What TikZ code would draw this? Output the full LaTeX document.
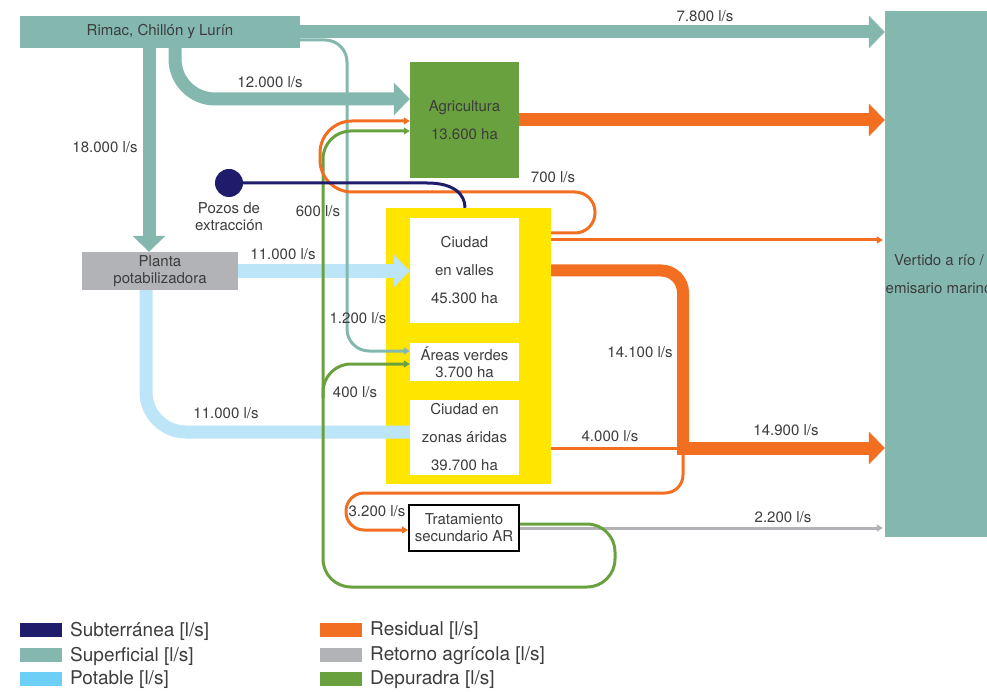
\documentclass[tikz,border=0pt]{standalone}
\usepackage{fontspec}
\setmainfont{TeX Gyre Heros}
\usepackage{tikz}
\usetikzlibrary{arrows.meta}
\definecolor{cSup}{HTML}{84B8AF}
\definecolor{cSub}{HTML}{201C6C}
\definecolor{cPot}{HTML}{BCE5F7}
\definecolor{cPotleg}{HTML}{6DCFF6}
\definecolor{cRes}{HTML}{F26F21}
\definecolor{cRet}{HTML}{B1B3B6}
\definecolor{cDep}{HTML}{6AA13F}
\definecolor{cYel}{HTML}{FFE600}
\definecolor{cTxt}{HTML}{3D3D3D}

\begin{document}
\begin{tikzpicture}[x=1pt, y=-1pt,
		lbl/.style={text=cTxt, inner sep=0pt, align=center, font=\fontsize{15}{17}\selectfont},
		box/.style={rectangle, inner sep=0pt, align=center, text=cTxt, font=\fontsize{15}{17}\selectfont},
		leg/.style={rectangle, inner sep=0pt, minimum width=42pt, minimum height=14pt},
		legtxt/.style={anchor=west, inner sep=0pt, text=cTxt, font=\fontsize{19}{21}\selectfont},
		bigtip/.style={-{Triangle[length=16pt, width=32pt]}},
		smalltip/.style={-{Triangle[length=6pt, width=7pt]}},
		flow/.style={line width=3pt}]
	\useasboundingbox (0,0) rectangle (987,692);

	\node[box, fill=cSup, minimum width=108pt, minimum height=526pt] (vertido) at (939,274) {Vertido a río /\\[11pt]emisario marino};
	\node[box, fill=cSup, minimum width=280pt, minimum height=32pt] (rio) at (160,32) {Rimac, Chillón y Lurín};
	\node[box, fill=cDep, minimum width=109pt, minimum height=116pt] (agri) at (464.5,120) {Agricultura\\[11pt]13.600 ha};
	\node[box, fill=cRet, minimum width=156pt, minimum height=38pt] (planta) at (160,271) {Planta\\potabilizadora};
	\node[rectangle, fill=cYel, minimum width=165pt, minimum height=276pt] (ciudad) at (468.5,346) {};
	\node[box, fill=white, minimum width=109pt, minimum height=105pt] (valles) at (464.5,270.5) {Ciudad\\[11pt]en valles\\[11pt]45.300 ha};
	\node[box, fill=white, minimum width=109pt, minimum height=38pt] (verdes) at (464.5,362) {Áreas verdes\\3.700 ha};
	\node[box, fill=white, minimum width=109pt, minimum height=75pt] (aridas) at (464.5,437.5) {Ciudad en\\[11pt]zonas áridas\\[11pt]39.700 ha};
	\node[box, fill=white, draw=black, line width=2pt, minimum width=110pt, minimum height=46pt] (trat) at (464,528) {Tratamiento\\secundario AR};

	\coordinate (junc) at (683,448);
	\coordinate (depbranch) at (323,398);

	\draw[cPot, line width=14pt, bigtip] (planta.east) -- (planta.east -| valles.west);
	\draw[cPot, line width=13pt, rounded corners=40pt] ([xshift=-14pt]planta.south) |- (aridas.west |- 0,432);

	\draw[cSup, line width=13pt, bigtip] (rio.east) -- (rio.east -| vertido.west);
	\draw[cSup, line width=13pt, bigtip] ([xshift=-11pt]rio.south) -- ([xshift=-11pt]rio.south |- planta.north);
	\draw[cSup, line width=13pt, rounded corners=40pt, bigtip] ([xshift=15pt]rio.south) |- (agri.west |- 0,99);
	\draw[cSup, flow, rounded corners=22pt, smalltip] ([yshift=-8pt]rio.east) -| (347,351) -- (verdes.west |- 0,351);

	\draw[cRet, flow, smalltip, shorten >=2pt] (trat.east) -- (trat.east -| vertido.west);

	\draw[cDep, flow, rounded corners=28pt, smalltip] ([yshift=4pt]trat.east) -- (615,524) -- (615,587) -- (323,587) -- (323,131) -- (agri.west |- 0,131);
	\draw[cDep, flow, rounded corners=28pt, smalltip] (depbranch) |- (verdes.west |- 0,364);

	\draw[cRes, line width=13pt, bigtip] (agri.east) -- (agri.east -| vertido.west);
	\draw[cRes, line width=12pt, rounded corners=22pt] (valles.east -| ciudad.east) -| ([yshift=-6pt]junc);
	\draw[cRes, line width=13pt, bigtip] ([xshift=-6pt]junc) -- (junc -| vertido.west);
	\draw[cRes, flow] (ciudad.east |- junc) -- (junc);
	\draw[cRes, flow, rounded corners=18pt, smalltip] ([yshift=-6pt]junc) -- (683,493) -- (346,493) -- (346,530) -- ([yshift=-2pt]trat.west);
	\draw[cRes, flow, rounded corners=20pt, smalltip] (ciudad.east |- 0,233) -- (595,233) -- (595,192) [rounded corners=32pt] -- (320,192) -- (320,121) -- (agri.west |- 0,121);
	\draw[cRes, flow, smalltip, shorten >=2pt] (ciudad.east |- 0,240) -- (vertido.west |- 0,240);

	\node[circle, fill=cSub, minimum size=28pt, inner sep=0pt] (pozos) at (229,183) {};
	\draw[cSub, flow] (pozos.east) -- (427,183) .. controls (455,183) and (465,195) .. ([xshift=-3.5pt]ciudad.north);

	\node[lbl] (lpozos) at (229,217) {Pozos de\\extracción};
	\node[lbl] (l7800) at (705,16) {7.800 l/s};
	\node[lbl] (l12000) at (270,82) {12.000 l/s};
	\node[lbl] (l18000) at (105,147) {18.000 l/s};
	\node[lbl] (l700) at (553,177) {700 l/s};
	\node[lbl] (l600) at (318,211) {600 l/s};
	\node[lbl] (l11000a) at (283,254) {11.000 l/s};
	\node[lbl] (l1200) at (358,318) {1.200 l/s};
	\node[lbl] (l14100) at (640,352) {14.100 l/s};
	\node[lbl] (l400) at (355,392) {400 l/s};
	\node[lbl] (l11000b) at (226,413) {11.000 l/s};
	\node[lbl] (l4000) at (610,436) {4.000 l/s};
	\node[lbl] (l14900) at (786,430) {14.900 l/s};
	\node[lbl] (l3200) at (377,511) {3.200 l/s};
	\node[lbl] (l2200) at (783,517) {2.200 l/s};

	\node[leg, fill=cSub] (legsub) at (41,630) {};
	\node[legtxt] (legsubt) at (70,631) {Subterránea [l/s]};
	\node[leg, fill=cSup] (legsup) at (41,655) {};
	\node[legtxt] (legsupt) at (70,656) {Superficial [l/s]};
	\node[leg, fill=cPotleg] (legpot) at (41,679) {};
	\node[legtxt] (legpott) at (70,680) {Potable [l/s]};
	\node[leg, fill=cRes] (legres) at (341,630) {};
	\node[legtxt] (legrest) at (370,631) {Residual [l/s]};
	\node[leg, fill=cRet] (legret) at (341,655) {};
	\node[legtxt] (legrett) at (370,656) {Retorno agrícola [l/s]};
	\node[leg, fill=cDep] (legdep) at (341,679) {};
	\node[legtxt] (legdept) at (370,680) {Depuradra [l/s]};
\end{tikzpicture}
\end{document}
